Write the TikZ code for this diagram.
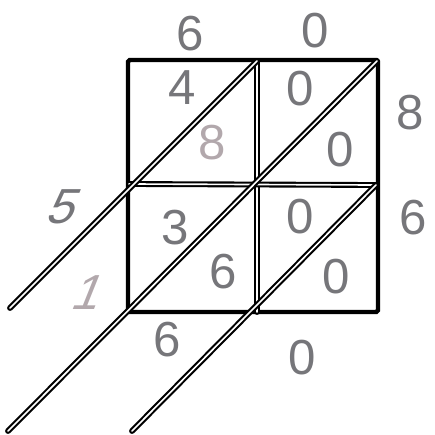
\documentclass[tikz,border=0pt]{standalone}
\usepackage{fontspec}
\setmainfont{Liberation Sans}
\usepackage{xcolor}
\usepackage{tikz}
\definecolor{pencil}{RGB}{118,118,122}
\definecolor{faint}{RGB}{178,168,172}

\begin{document}
\begin{tikzpicture}[
  x=0.3mm,y=-0.3mm,
  digit/.style={text=pencil, font=\fontsize{42}{42}\selectfont, inner sep=0pt},
  faintdigit/.style={digit, text=faint},
  frame/.style={draw, line width=3.8pt, rounded corners=1.5pt},
  rule/.style={draw, line width=1.8pt, double=white, double distance=1.4pt, line cap=round}
]
\useasboundingbox (0,0) rectangle (435,435);

% grid corners
\coordinate (tl) at (128,60);
\coordinate (tm) at (257,61);
\coordinate (tr) at (377,61);
\coordinate (ml) at (129,184);
\coordinate (mm) at (257,184);
\coordinate (mr) at (376,185);
\coordinate (bl) at (128,312);
\coordinate (bm) at (257,312);
\coordinate (br) at (378,312);

% free ends of the diagonals
\coordinate (end1) at (10,308);
\coordinate (end2) at (8,431);
\coordinate (end3) at (132,431);

\draw[frame] (tl) rectangle (br);
\draw[rule] (tm) -- (bm);
\draw[rule] (ml) -- (mr);

\draw[rule] (tm) -- (end1);
\draw[rule] (tr) -- (end2);
\draw[rule] (mr) -- (end3);

% factors
\node[digit] (top1) at (190,34) {6};
\node[digit] (top2) at (315,31) {0};
\node[digit] (right1) at (410,113) {8};
\node[digit] (right2) at (413,218) {6};

% cell products
\node[digit] (c11a) at (182,88) {4};
\node[faintdigit] (c11b) at (212,143) {8};
\node[digit] (c12a) at (300,89) {0};
\node[digit] (c12b) at (340,150) {0};
\node[digit] (c21a) at (175,228) {3};
\node[digit] (c21b) at (223,272) {6};
\node[digit] (c22a) at (300,217) {0};
\node[digit] (c22b) at (336,277) {0};

% product digits
\node[digit, xslant=0.4] (res1) at (65,207) {5};
\node[faintdigit, xslant=0.4] (res2) at (90,293) {1};
\node[digit] (res3) at (167,340) {6};
\node[digit] (res4) at (302,358) {0};
\end{tikzpicture}
\end{document}
